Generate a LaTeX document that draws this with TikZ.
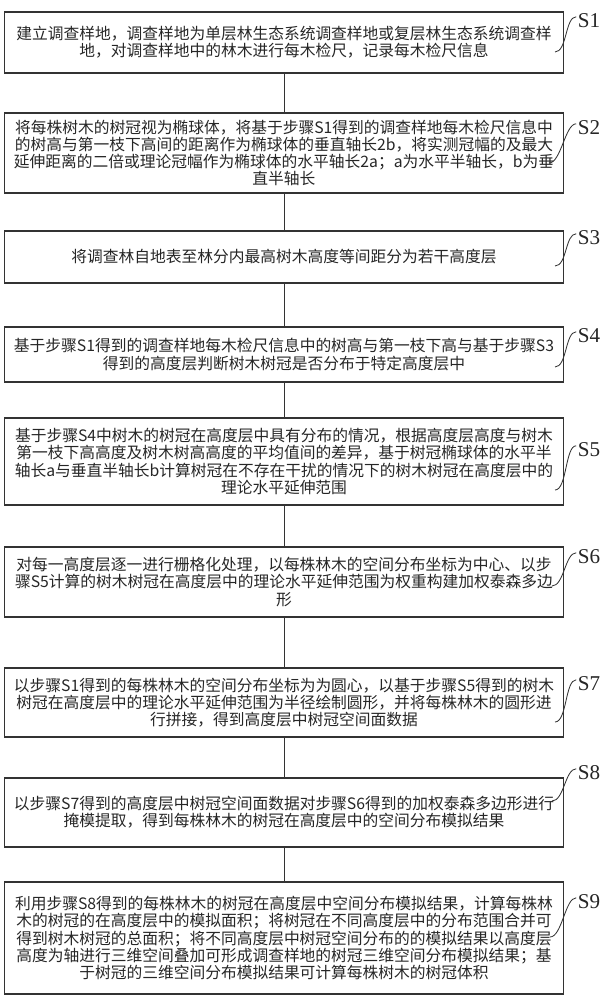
\documentclass[tikz,border=0pt]{standalone}
\usepackage{fontspec}
\newfontfamily\cjk{Noto Sans CJK SC}
\newfontfamily\lbl{Liberation Serif}
\usepackage{tikz}
\usetikzlibrary{calc}

\begin{document}
\begin{tikzpicture}[x=0.025cm,y=-0.025cm,
  stepbox/.style={draw=black!80,line width=0.8pt,minimum width=13.95cm,align=center,inner sep=0pt,
    text=black!85,font=\cjk\fontsize{11.2}{12.2}\selectfont},
  tag/.style={inner sep=1pt,text=black!85,font=\lbl\fontsize{15}{15}\selectfont},
  lead/.style={draw=black!80,line width=0.6pt}]
  \useasboundingbox (0,0) rectangle (608,1000);
  % Step boxes
  \node[stepbox,minimum height=1.525cm] (s1) at (284,42.5)
    {建立调查样地，调查样地为单层林生态系统调查样地或复层林生态系统调查样\\
     地，对调查样地中的林木进行每木检尺，记录每木检尺信息};
  \node[stepbox,minimum height=2cm] (s2) at (284,153)
    {将每株树木的树冠视为椭球体，将基于步骤S1得到的调查样地每木检尺信息中\\
     的树高与第一枝下高间的距离作为椭球体的垂直轴长2b，将实测冠幅的及最大\\
     延伸距离的二倍或理论冠幅作为椭球体的水平轴长2a；a为水平半轴长，b为垂\\
     直半轴长};
  \node[stepbox,minimum height=1.3cm] (s3) at (284,257)
    {将调查林自地表至林分内最高树木高度等间距分为若干高度层};
  \node[stepbox,minimum height=1.375cm] (s4) at (284,354.5)
    {基于步骤S1得到的调查样地每木检尺信息中的树高与第一枝下高与基于步骤S3\\
     得到的高度层判断树木树冠是否分布于特定高度层中};
  \node[stepbox,minimum height=2.175cm] (s5) at (284,461.5)
    {基于步骤S4中树木的树冠在高度层中具有分布的情况，根据高度层高度与树木\\
     第一枝下高高度及树木树高高度的平均值间的差异，基于树冠椭球体的水平半\\
     轴长a与垂直半轴长b计算树冠在不存在干扰的情况下的树木树冠在高度层中的\\
     理论水平延伸范围};
  \node[stepbox,minimum height=1.75cm] (s6) at (284,582)
    {对每一高度层逐一进行栅格化处理，以每株林木的空间分布坐标为中心、以步\\
     骤S5计算的树木树冠在高度层中的理论水平延伸范围为权重构建加权泰森多边\\
     形};
  \node[stepbox,minimum height=1.725cm] (s7) at (284,702.5)
    {以步骤S1得到的每株林木的空间分布坐标为为圆心，以基于步骤S5得到的树木\\
     树冠在高度层中的理论水平延伸范围为半径绘制圆形，并将每株林木的圆形进\\
     行拼接，得到高度层中树冠空间面数据};
  \node[stepbox,minimum height=1.725cm] (s8) at (284,812.5)
    {以步骤S7得到的高度层中树冠空间面数据对步骤S6得到的加权泰森多边形进行\\
     掩模提取，得到每株林木的树冠在高度层中的空间分布模拟结果};
  \node[stepbox,minimum height=2.8cm] (s9) at (284,938)
    {利用步骤S8得到的每株林木的树冠在高度层中空间分布模拟结果，计算每株林\\
     木的树冠的在高度层中的模拟面积；将树冠在不同高度层中的分布范围合并可\\
     得到树木树冠的总面积；将不同高度层中树冠空间分布的的模拟结果以高度层\\
     高度为轴进行三维空间叠加可形成调查样地的树冠三维空间分布模拟结果；基\\
     于树冠的三维空间分布模拟结果可计算每株树木的树冠体积};
  % Links between steps
  \foreach \a/\b in {s1/s2,s2/s3,s3/s4,s4/s5,s5/s6,s6/s7,s7/s8,s8/s9}
    \draw[lead] (\a) -- (\b);
  % Step tags with leader curves
  \foreach \n/\tx/\ty/\ex/\ey in {1/589/21/555/52, 2/589/128/549/163, 3/589/238/555/266,
      4/589/336/555/367, 5/589/450/555/490, 6/589/557/552/586, 7/589/684/555/722,
      8/589/773/552/801, 9/589/902/550/937}{
    \node[tag] (t\n) at (\tx,\ty) {S\n};
    \coordinate (e\n) at (\ex,\ey);
    \draw[lead] ([yshift=3pt]t\n.west) .. controls +(-11,0) and +(12,0) .. (e\n);
  }
\end{tikzpicture}
\end{document}
